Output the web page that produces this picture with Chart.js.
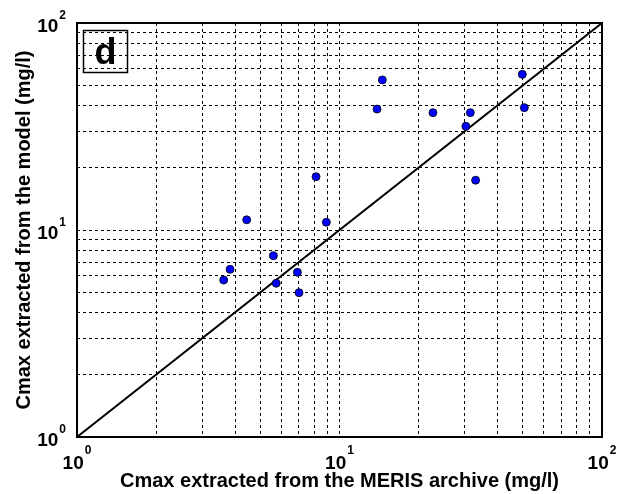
<!DOCTYPE html>
<html>
<head>
  <meta charset="utf-8">
  <title>Cmax model vs MERIS</title>
  <script src="https://cdn.jsdelivr.net/npm/chart.js@4.4.0/dist/chart.umd.min.js"></script>
</head>
<style>
body{
	margin: 0;
	background-color: #ffffff;
  }
#cmaxChart{
    display: block;
  }
</style>
<body>
  <canvas id="cmaxChart" width="617" height="494"></canvas>

<script>
//////////////////////////////////////////////////
////////////////Data//////////////////////////////
// Cmax from the MERIS archive (x) against Cmax from the model (y), mg/l
var merisCmax = [14.56, 49.7, 13.9, 22.7, 31.5, 30.3, 50.6, 8.14, 33.0, 4.43, 8.91, 5.60, 3.83, 3.62, 6.91, 5.74, 7.01];
var modelCmax = [53.1, 56.5, 38.4, 36.9, 36.9, 31.7, 39.0, 18.1, 17.4, 11.2, 10.9, 7.51, 6.46, 5.73, 6.25, 5.53, 4.98];
// 1:1 reference line
var oneToOne = [1, 100];
// labelled decades and the grid lines between them
var decadeTicks = [1, 10, 100];
var decadeExponents = ["0", "1", "2"];
var gridSteps = [1, 2, 3, 4, 5, 6, 7, 8, 9];
var panelLetter = "d";
var xTitle = "Cmax extracted from the MERIS archive (mg/l)";
var yTitle = "Cmax extracted from the model (mg/l)";
////////////////Data//////////////////////////////
//////////////////////////////////////////////////

var fontFamily = "'Liberation Sans', Arial, Helvetica, sans-serif";

//grid values 1,2..9,10,20..90,100
var gridValues = [];
for (var d = 0; d < decadeTicks.length - 1; d++)
{
  for (var s = 0; s < gridSteps.length; s++)
    gridValues.push(decadeTicks[d] * gridSteps[s]);
}
gridValues.push(decadeTicks[decadeTicks.length - 1]);

var points = [];
for (var i = 0; i < merisCmax.length; i++)
  points.push({x: merisCmax[i], y: modelCmax[i]});

var linePoints = [];
for (var i = 0; i < oneToOne.length; i++)
  linePoints.push({x: oneToOne[i], y: oneToOne[i]});

//draws the frame, the 10^n labels and the panel letter
var decorations = {
  id: "decorations",
  afterDraw: function(chart) {
    var ctx = chart.ctx;
    var area = chart.chartArea;
    var xs = chart.scales.x;
    var ys = chart.scales.y;
    ctx.save();

    //box around the plot
    ctx.strokeStyle = "#000";
    ctx.lineWidth = 2;
    ctx.strokeRect(area.left, area.top, area.right - area.left, area.bottom - area.top);

    var baseFont = "bold 19px " + fontFamily;
    var supFont = "bold 12px " + fontFamily;
    ctx.fillStyle = "#000";
    ctx.textBaseline = "alphabetic";

    for (var k = 0; k < decadeTicks.length; k++)
    {
      ctx.font = baseFont;
      var wBase = ctx.measureText("10").width;
      ctx.font = supFont;
      var wSup = ctx.measureText(decadeExponents[k]).width;

      //x axis labels, centred under the tick
      var px = xs.getPixelForValue(decadeTicks[k]);
      var left = px - (wBase + wSup + 1) / 2;
      ctx.textAlign = "left";
      ctx.font = baseFont;
      ctx.fillText("10", left, area.bottom + 32);
      ctx.font = supFont;
      ctx.fillText(decadeExponents[k], left + wBase + 1, area.bottom + 17);

      //y axis labels, right aligned beside the tick
      var py = ys.getPixelForValue(decadeTicks[k]);
      var right = area.left - 11;
      ctx.font = supFont;
      ctx.fillText(decadeExponents[k], right - wSup, py - 4);
      ctx.font = baseFont;
      ctx.fillText("10", right - wSup - 1 - wBase, py + 9);
    }

    //panel letter in a box
    ctx.lineWidth = 1.5;
    ctx.strokeRect(83.5, 30.5, 44, 42);
    ctx.font = "bold 36px " + fontFamily;
    ctx.textAlign = "center";
    ctx.fillText(panelLetter, 105.5, 64);

    ctx.restore();
  }
};

var gridOpts = {
  display: true,
  color: "#000",
  lineWidth: 1,
  drawTicks: false
};

var chartCanvas = document.getElementById("cmaxChart").getContext("2d");
var myScatter = new Chart(chartCanvas, {
  type: "scatter",
  data: {
    datasets: [
      {
        label: "Model vs MERIS",
        data: points,
        backgroundColor: "#0000ff",
        borderColor: "#000",
        borderWidth: 0.8,
        pointRadius: 4,
        order: 0
      },
      {
        label: "1:1",
        data: linePoints,
        showLine: true,
        borderColor: "#000",
        borderWidth: 2,
        pointRadius: 0,
        order: 1
      }
    ]
  },
  options: {
    responsive: false,
    animation: false,
    devicePixelRatio: 1,
    layout: {padding: {top: 23, right: 15, left: 0, bottom: 0}},
    plugins: {
      legend: {display: false},
      tooltip: {enabled: false}
    },
    scales: {
      x: {
        type: "logarithmic",
        min: 1,
        max: 100,
        grid: gridOpts,
        border: {display: false, dash: [3, 3]},
        ticks: {display: false},
        afterBuildTicks: function(axis) {
          axis.ticks = gridValues.map(function(v) { return {value: v}; });
        },
        afterFit: function(axis) { axis.height = 57; },
        title: {
          display: true,
          text: xTitle,
          color: "#000",
          font: {family: fontFamily, size: 20, weight: "bold"},
          padding: {top: 0, bottom: 1}
        }
      },
      y: {
        type: "logarithmic",
        min: 1,
        max: 100,
        grid: gridOpts,
        border: {display: false, dash: [3, 3]},
        ticks: {display: false},
        afterBuildTicks: function(axis) {
          axis.ticks = gridValues.map(function(v) { return {value: v}; });
        },
        afterFit: function(axis) { axis.width = 77; },
        title: {
          display: true,
          text: yTitle,
          color: "#000",
          font: {family: fontFamily, size: 20, weight: "bold"},
          padding: {top: 12, bottom: 0}
        }
      }
    }
  },
  plugins: [decorations]
});
</script>
</body>
</html>
